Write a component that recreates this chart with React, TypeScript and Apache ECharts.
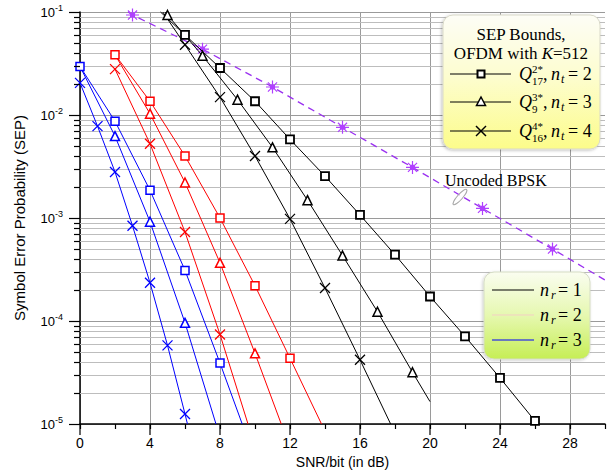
import React, { useEffect, useRef } from 'react';
import * as echarts from 'echarts';

type Pt = [number, number];

// ---- axis ticks ----
const xTickValues = [0, 4, 8, 12, 16, 20, 24, 28];
const yDecades = [1e-5, 1e-4, 1e-3, 1e-2];
const yMinorMultipliers = [2, 3, 4, 5, 6, 7, 8, 9];

// ---- Uncoded BPSK ----
const bpskHead: Pt[] = [[2.75, 0.1]];
const bpskMarked: Pt[] = [[3, 0.0935], [7, 0.0436], [11, 0.0187], [15, 0.0076], [19, 0.0031], [23, 0.00124], [27, 0.0005]];
const bpskTail: Pt[] = [[30, 0.00025]];

// ---- n_r = 1 (black) ----
const nr1SqHead: Pt[] = [[4.6, 0.1]];
const nr1SqMarked: Pt[] = [[6, 0.06], [8, 0.0286], [10, 0.0136], [12, 0.0058], [14, 0.00255], [16, 0.00107], [18, 0.00044], [20, 0.000173], [22, 7.1e-5], [24, 2.8e-5], [26, 1.07e-5]];
const nr1SqTail: Pt[] = [];
const nr1TriHead: Pt[] = [[4.85, 0.1]];
const nr1TriMarked: Pt[] = [[5, 0.0935], [7, 0.0376], [9, 0.0141], [11, 0.00485], [13, 0.00149], [15, 0.000432], [17, 0.000123], [19, 3.18e-5]];
const nr1TriTail: Pt[] = [[20, 1.65e-5]];
const nr1XHead: Pt[] = [[4.73, 0.1]];
const nr1XMarked: Pt[] = [[6, 0.048], [8, 0.0149], [10, 0.004], [12, 0.00098], [14, 0.000209], [16, 4.2e-5]];
const nr1XTail: Pt[] = [[17.75, 1e-5]];

// ---- n_r = 2 (red) ----
const nr2SqHead: Pt[] = [];
const nr2SqMarked: Pt[] = [[2, 0.0384], [4, 0.0136], [6, 0.004], [8, 0.001], [10, 0.00022], [12, 4.35e-5]];
const nr2SqTail: Pt[] = [[13.8, 1e-5]];
const nr2TriHead: Pt[] = [[2, 0.0384]];
const nr2TriMarked: Pt[] = [[4, 0.0103], [6, 0.00221], [8, 0.000367], [10, 4.85e-5]];
const nr2TriTail: Pt[] = [[11.5, 1e-5]];
const nr2XHead: Pt[] = [];
const nr2XMarked: Pt[] = [[2, 0.0279], [4, 0.00526], [6, 0.00073], [8, 7.4e-5]];
const nr2XTail: Pt[] = [[9.6, 1e-5]];

// ---- n_r = 3 (blue) ----
const nr3SqHead: Pt[] = [];
const nr3SqMarked: Pt[] = [[0, 0.0296], [2, 0.0087], [4, 0.00186], [6, 0.00031], [8, 3.9e-5]];
const nr3SqTail: Pt[] = [[9.27, 1e-5]];
const nr3TriHead: Pt[] = [[0, 0.0296]];
const nr3TriMarked: Pt[] = [[2, 0.00624], [4, 0.00092], [6, 9.6e-5]];
const nr3TriTail: Pt[] = [[7.77, 1e-5]];
const nr3XHead: Pt[] = [];
const nr3XMarked: Pt[] = [[0, 0.0205], [1, 0.0078], [2, 0.0028], [3, 0.00084], [4, 0.000235], [5, 5.8e-5], [6, 1.25e-5]];
const nr3XTail: Pt[] = [[6.14, 1e-5]];

const SANS = '"Liberation Sans", Arial, sans-serif';
const SERIF = '"Liberation Serif", "Times New Roman", serif';

const X_SYMBOL = 'path://M0,0L10,10M10,0L0,10';
const STAR_SYMBOL = 'path://M5,0V10M0,5H10M1.5,1.5L8.5,8.5M8.5,1.5L1.5,8.5M3.5,3.5H6.5V6.5H3.5Z';

function build(head: Pt[], marked: Pt[], tail: Pt[]) {
  return [
    ...head.map((p) => ({ value: p, symbol: 'none' })),
    ...marked.map((p) => ({ value: p })),
    ...tail.map((p) => ({ value: p, symbol: 'none' })),
  ];
}

function lineSeries(name: string, data: any[], color: string, kind: 'sq' | 'tri' | 'x', width = 1) {
  let symbol: string = 'rect';
  let symbolSize = 8;
  let itemStyle: any = { color: '#fff', borderColor: color, borderWidth: color === '#000000' ? 1.8 : 1.5 };
  if (kind === 'tri') {
    symbol = 'triangle';
    symbolSize = 9;
    itemStyle = { color: '#fff', borderColor: color, borderWidth: 1.5 };
  } else if (kind === 'x') {
    symbol = X_SYMBOL;
    symbolSize = 10;
    itemStyle = { color: 'rgba(0,0,0,0)', borderColor: color, borderWidth: 1.3 };
  }
  return {
    type: 'line',
    name,
    data,
    symbol,
    symbolSize,
    showSymbol: true,
    showAllSymbol: true,
    clip: false,
    silent: true,
    z: 3,
    lineStyle: { color, width },
    itemStyle,
  };
}

function txt(x: number, y: number, text: string, size: number, italic = false, align = 'left', z = 120) {
  return {
    type: 'text',
    x,
    y,
    z,
    silent: true,
    style: {
      text,
      fontSize: size,
      fontFamily: SERIF,
      fontStyle: italic ? 'italic' : 'normal',
      fill: '#000',
      textAlign: align,
      align,
      textVerticalAlign: 'middle',
      verticalAlign: 'middle',
    },
  };
}

function sepEntry(y: number, sup: string, sub: string, nt: string, marker: 'sq' | 'tri' | 'x') {
  const els: any[] = [];
  els.push({ type: 'line', z: 110, shape: { x1: 450, y1: y, x2: 511, y2: y }, style: { stroke: '#000', lineWidth: 1 } });
  const mx = 481;
  if (marker === 'sq') {
    els.push({ type: 'rect', z: 111, shape: { x: mx - 3.5, y: y - 3.5, width: 7, height: 7 }, style: { fill: '#fff', stroke: '#000', lineWidth: 2 } });
  } else if (marker === 'tri') {
    els.push({ type: 'polygon', z: 111, shape: { points: [[mx, y - 5], [mx + 4.5, y + 3.5], [mx - 4.5, y + 3.5]] }, style: { fill: '#fff', stroke: '#000', lineWidth: 1.5 } });
  } else {
    els.push({ type: 'line', z: 111, shape: { x1: mx - 5, y1: y - 5, x2: mx + 5, y2: y + 5 }, style: { stroke: '#000', lineWidth: 1.5 } });
    els.push({ type: 'line', z: 111, shape: { x1: mx + 5, y1: y - 5, x2: mx - 5, y2: y + 5 }, style: { stroke: '#000', lineWidth: 1.5 } });
  }
  els.push(txt(519, y, 'Q', 18, true));
  els.push(txt(532, y - 5, sup, 11));
  els.push(txt(532, y + 7, sub, 11));
  els.push(txt(543, y, ',', 18));
  els.push(txt(551, y, 'n', 18, true));
  els.push(txt(561, y + 5, 't', 12, true));
  els.push(txt(568, y, '= ' + nt, 18));
  return els;
}

function nrEntry(y: number, color: string, n: string) {
  return [
    { type: 'line', z: 110, shape: { x1: 492, y1: y, x2: 534, y2: y }, style: { stroke: color, lineWidth: 1 } },
    txt(540, y, 'n', 18, true),
    txt(551, y + 5, 'r', 12, true),
    txt(558, y, '= ' + n, 18),
  ];
}

export default function App() {
  const ref = useRef<HTMLDivElement>(null);

  useEffect(() => {
    if (!ref.current) return;
    const chart = echarts.init(ref.current, undefined, { renderer: 'svg' });

    const yMinorTicks: number[] = [];
    yDecades.forEach((d) => yMinorMultipliers.forEach((m) => yMinorTicks.push(m * d)));

    const legendGraphic: any[] = [
      {
        type: 'rect',
        z: 100,
        shape: { x: 443, y: 15, width: 157, height: 134, r: 10 },
        style: {
          fill: new echarts.graphic.LinearGradient(0, 0, 0, 1, [
            { offset: 0, color: '#fdfdf6' },
            { offset: 0.45, color: '#fdfdd0' },
            { offset: 1, color: '#fcfc8a' },
          ]),
          stroke: '#d9d9c8',
          lineWidth: 1,
          shadowBlur: 3,
          shadowColor: 'rgba(0,0,0,0.25)',
          shadowOffsetX: -1,
          shadowOffsetY: 1,
        },
      },
      txt(521, 34, 'SEP Bounds,', 17, false, 'center'),
      {
        type: 'text',
        x: 521,
        y: 53,
        z: 120,
        style: {
          text: '{r|OFDM with }{i|K}{r|=512}',
          textAlign: 'center',
          align: 'center',
          textVerticalAlign: 'middle',
          verticalAlign: 'middle',
          rich: {
            r: { fontSize: 17, fontFamily: SERIF, fill: '#000', color: '#000' },
            i: { fontSize: 17, fontFamily: SERIF, fontStyle: 'italic', fill: '#000', color: '#000' },
          },
        },
      },
      ...sepEntry(74, '2*', '17', '2', 'sq'),
      ...sepEntry(102, '3*', '9', '3', 'tri'),
      ...sepEntry(131, '4*', '16', '4', 'x'),
      {
        type: 'rect',
        z: 100,
        shape: { x: 484, y: 272, width: 106, height: 87, r: 10 },
        style: {
          fill: new echarts.graphic.LinearGradient(0, 0, 0, 1, [
            { offset: 0, color: '#fafdf0' },
            { offset: 0.5, color: '#e6f8b0' },
            { offset: 1, color: '#c6ee55' },
          ]),
          stroke: '#d5dcc4',
          lineWidth: 1,
          shadowBlur: 3,
          shadowColor: 'rgba(0,0,0,0.2)',
          shadowOffsetX: -1,
          shadowOffsetY: 1,
        },
      },
      ...nrEntry(290, '#000', '1'),
      ...nrEntry(315, '#f3cfc4', '2'),
      ...nrEntry(340, '#0000ff', '3'),
      txt(445, 180, 'Uncoded BPSK', 16, false, 'left', 50),
      {
        type: 'ellipse',
        z: 50,
        x: 460,
        y: 197,
        rotation: 0.85,
        shape: { cx: 0, cy: 0, rx: 10, ry: 2.6 },
        style: { fill: 'rgba(255,255,255,0.6)', stroke: '#a8a8a8', lineWidth: 1 },
      },
    ];

    const option: any = {
      animation: false,
      backgroundColor: '#fff',
      grid: { left: 80, right: 4, top: 12, bottom: 52, containLabel: false },
      xAxis: {
        type: 'value',
        min: 0,
        max: 30,
        interval: 2,
        name: 'SNR/bit (in dB)',
        nameLocation: 'middle',
        nameGap: 30,
        nameTextStyle: { fontSize: 14, fontFamily: SANS, color: '#000' },
        axisLine: { show: true, onZero: false, lineStyle: { color: '#000', width: 1.5 } },
        axisTick: { show: true, inside: false, length: 5, lineStyle: { color: '#000', width: 1.2 } },
        axisLabel: {
          margin: 12,
          fontSize: 14,
          fontFamily: SANS,
          color: '#000',
          formatter: (v: number) => (xTickValues.indexOf(v) >= 0 ? String(v) : ''),
        },
        splitLine: { show: true, lineStyle: { color: ['#9a9a9a', 'rgba(0,0,0,0)'], width: 1 } },
      },
      yAxis: {
        type: 'log',
        logBase: 10,
        min: 1e-5,
        max: 0.1,
        name: 'Symbol Error Probability (SEP)',
        nameLocation: 'middle',
        nameGap: 53,
        nameTextStyle: { fontSize: 15, fontFamily: SANS, color: '#000' },
        axisLine: { show: true, onZero: false, lineStyle: { color: '#000', width: 1.5 } },
        axisTick: { show: true, inside: false, length: 11, lineStyle: { color: '#000', width: 1.2 } },
        minorTick: { show: false },
        axisLabel: {
          margin: 17,
          color: '#000',
          formatter: (v: number) => {
            const e = Math.round(Math.log10(v));
            return '{b|10}{s|' + e + '}';
          },
          rich: {
            b: { fontSize: 13, fontFamily: SANS, color: '#000', lineHeight: 18 },
            s: { fontSize: 9, fontFamily: SANS, color: '#000', lineHeight: 10, verticalAlign: 'top' },
          },
        },
        splitLine: { show: true, lineStyle: { color: '#9a9a9a', width: 1 } },
      },
      graphic: legendGraphic,
      series: [
        {
          type: 'line',
          name: 'Uncoded BPSK',
          data: build(bpskHead, bpskMarked, bpskTail),
          symbol: STAR_SYMBOL,
          symbolSize: 13,
          showAllSymbol: true,
          clip: false,
          silent: true,
          z: 2,
          lineStyle: { color: '#9a30f0', width: 1.3, type: [7, 5] },
          itemStyle: { color: 'rgba(0,0,0,0)', borderColor: '#b040ff', borderWidth: 1.2 },
        },
        lineSeries('nr3 sq', build(nr3SqHead, nr3SqMarked, nr3SqTail), '#0000ff', 'sq'),
        lineSeries('nr3 tri', build(nr3TriHead, nr3TriMarked, nr3TriTail), '#0000ff', 'tri'),
        lineSeries('nr3 x', build(nr3XHead, nr3XMarked, nr3XTail), '#0000ff', 'x'),
        lineSeries('nr2 sq', build(nr2SqHead, nr2SqMarked, nr2SqTail), '#ff0000', 'sq'),
        lineSeries('nr2 tri', build(nr2TriHead, nr2TriMarked, nr2TriTail), '#ff0000', 'tri'),
        lineSeries('nr2 x', build(nr2XHead, nr2XMarked, nr2XTail), '#ff0000', 'x'),
        lineSeries('nr1 sq', build(nr1SqHead, nr1SqMarked, nr1SqTail), '#000000', 'sq'),
        lineSeries('nr1 tri', build(nr1TriHead, nr1TriMarked, nr1TriTail), '#000000', 'tri'),
        lineSeries('nr1 x', build(nr1XHead, nr1XMarked, nr1XTail), '#000000', 'x'),
      ],
    };

    chart.setOption(option);

    // Minor y grid lines / ticks and long x ticks, placed through the axes' own scales.
    const tickEls: any[] = [];
    const x0 = chart.convertToPixel({ xAxisIndex: 0 }, 0) as number;
    const x1 = chart.convertToPixel({ xAxisIndex: 0 }, 30) as number;
    const yBottom = chart.convertToPixel({ yAxisIndex: 0 }, 1e-5) as number;
    yMinorTicks.forEach((v) => {
      const raw = chart.convertToPixel({ yAxisIndex: 0 }, v) as number;
      if (isFinite(raw)) {
        const py = Math.round(raw) + 0.5;
        tickEls.push({ type: 'line', z: 1, silent: true, shape: { x1: x0, y1: py, x2: x1, y2: py }, style: { stroke: '#bdbdbd', lineWidth: 1 } });
        tickEls.push({ type: 'line', z: 5, silent: true, shape: { x1: x0 - 6, y1: py, x2: x0, y2: py }, style: { stroke: '#000', lineWidth: 1.2 } });
      }
    });
    xTickValues.forEach((v) => {
      const px = chart.convertToPixel({ xAxisIndex: 0 }, v) as number;
      if (isFinite(px) && isFinite(yBottom)) {
        tickEls.push({ type: 'line', z: 5, silent: true, shape: { x1: px, y1: yBottom, x2: px, y2: yBottom + 11 }, style: { stroke: '#000', lineWidth: 1.2 } });
      }
    });
    chart.setOption({ graphic: [...legendGraphic, ...tickEls] });

    return () => {
      chart.dispose();
    };
  }, []);

  return <div ref={ref} style={{ position: 'fixed', left: 0, top: 0, width: 609, height: 476, background: '#fff' }} />;
}
